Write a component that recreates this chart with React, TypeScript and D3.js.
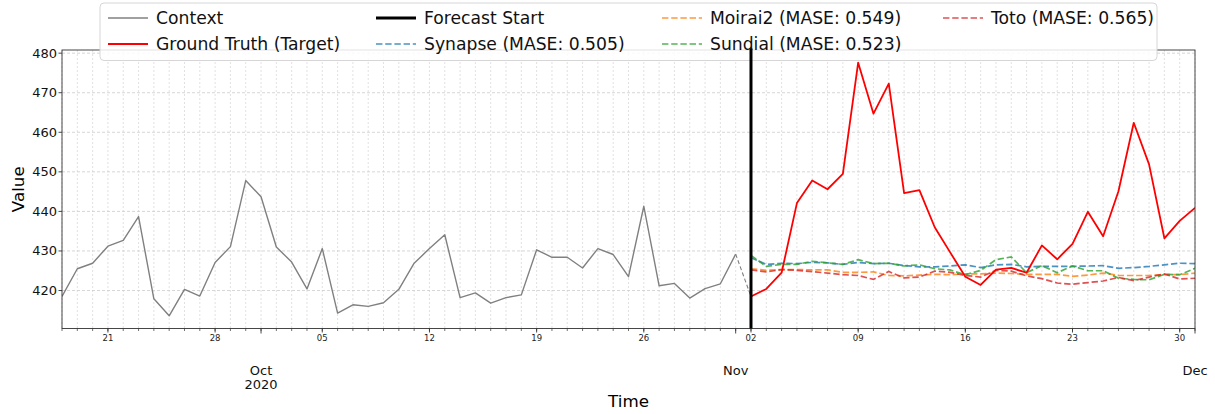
import React from "react";
import * as d3 from "d3";

// Daily observations (context window), 18 Sep 2020 – 1 Nov 2020
const contextStart = Date.UTC(2020, 8, 18);
const contextValues = [
  418.5, 425.5, 426.9, 431.2, 432.7, 438.7, 417.9, 413.6, 420.3, 418.6, 427.1, 431.1, 447.8,
  443.7, 431.0, 427.2, 420.4, 430.6, 414.3, 416.4, 416.0, 416.9, 420.3, 426.9, 430.6, 434.1,
  418.2, 419.4, 416.8, 418.2, 418.9, 430.3, 428.4, 428.4, 425.7, 430.6, 429.1, 423.5, 441.3,
  421.2, 421.8, 418.1, 420.5, 421.7, 429.2,
];

// Target horizon, 2 Nov 2020 – 1 Dec 2020
const forecastStart = Date.UTC(2020, 10, 2);
const groundTruth = [
  418.5, 420.4, 424.5, 442.1, 447.8, 445.6, 449.5, 477.6, 464.7, 472.3, 444.6, 445.4, 436.0,
  429.7, 423.5, 421.4, 425.3, 425.7, 424.5, 431.4, 427.9, 431.8, 439.9, 433.7, 445.1, 462.4,
  451.9, 433.2, 437.6, 440.9,
];
const synapse = [
  428.3, 426.6, 426.9, 426.8, 427.1, 427.0, 426.6, 427.1, 426.8, 426.9, 426.3, 426.0, 426.0,
  426.2, 426.5, 425.8, 426.5, 426.6, 426.0, 426.1, 426.1, 426.1, 426.2, 426.3, 425.6, 425.8,
  426.1, 426.5, 426.9, 426.8,
];
const moirai2 = [
  425.5, 425.1, 425.3, 425.3, 425.2, 425.2, 424.6, 424.6, 424.7, 423.8, 423.7, 423.9, 424.1,
  424.0, 424.2, 424.2, 424.4, 424.3, 424.1, 424.1, 424.1, 423.6, 423.9, 424.4, 423.8, 423.8,
  423.8, 424.0, 424.0, 424.4,
];
const sundial = [
  428.9, 426.1, 426.6, 426.6, 427.4, 427.0, 426.6, 427.8, 426.8, 426.9, 426.2, 426.5, 425.5,
  425.2, 424.0, 425.1, 427.8, 428.5, 424.5, 426.3, 424.5, 426.2, 425.0, 425.0, 423.1, 422.8,
  422.7, 424.1, 424.0, 425.6,
];
const toto = [
  425.2, 424.7, 425.3, 425.1, 424.8, 424.4, 424.0, 423.8, 422.8, 424.8, 423.2, 423.4, 424.9,
  424.6, 423.8, 423.4, 425.1, 424.9, 423.7, 423.0, 421.9, 421.6, 422.0, 422.4, 423.3, 422.5,
  423.4, 424.2, 422.9, 423.1,
];

const yTicks = [420, 430, 440, 450, 460, 470, 480];

const models = [
  { name: "Synapse", mase: 0.505, values: synapse, color: "#1f77b4" },
  { name: "Moirai2", mase: 0.549, values: moirai2, color: "#ff7f0e" },
  { name: "Sundial", mase: 0.523, values: sundial, color: "#2ca02c" },
  { name: "Toto", mase: 0.565, values: toto, color: "#d62728" },
];

const W = 1215;
const H = 414;
const plot = { left: 62, right: 1195, top: 50, bottom: 328.5 };
const FONT = "DejaVu Sans, sans-serif";
const DASH = "6.4,2.8";

type Pt = { date: Date; value: number };
const toSeries = (start: number, vals: number[]): Pt[] =>
  vals.map((v, i) => ({ date: d3.utcDay.offset(new Date(start), i), value: v }));

export default function App() {
  const ctx = toSeries(contextStart, contextValues);
  const gt = toSeries(forecastStart, groundTruth);

  const x = d3
    .scaleUtc()
    .domain([new Date(contextStart), d3.utcDay.offset(new Date(forecastStart), groundTruth.length - 1)])
    .range([plot.left, plot.right]);
  const y = d3.scaleLinear().domain([410.4, 480.8]).range([plot.bottom, plot.top]);

  const line = d3
    .line<Pt>()
    .x((d) => x(d.date))
    .y((d) => y(d.value));

  const days = d3.utcDay.range(x.domain()[0], d3.utcDay.offset(x.domain()[1], 1));
  const weeks = d3.utcMonday.range(x.domain()[0], d3.utcDay.offset(x.domain()[1], 1));
  const months = d3.utcMonth.range(x.domain()[0], d3.utcDay.offset(x.domain()[1], 1));
  const dayFmt = d3.utcFormat("%d");
  const monFmt = d3.utcFormat("%b");

  const bridge: Pt[] = [ctx[ctx.length - 1], gt[0]];
  const xStart = x(new Date(forecastStart));

  const legendCols = [108, 376, 662, 943];
  const legendRows = [18, 44];
  const legendItems = [
    { label: "Context", col: 0, row: 0, color: "#808080", width: 1.4, dash: "" },
    { label: "Ground Truth (Target)", col: 0, row: 1, color: "#ff0000", width: 1.8, dash: "" },
    { label: "Forecast Start", col: 1, row: 0, color: "#000000", width: 3, dash: "" },
    ...models.map((m, i) => ({
      label: `${m.name} (MASE: ${m.mase.toFixed(3)})`,
      col: 1 + Math.floor((i + 1) / 2),
      row: (i + 1) % 2,
      color: m.color,
      width: 1.7,
      dash: DASH,
    })),
  ];

  return (
    <svg
      width={W}
      height={H}
      style={{ position: "absolute", left: 0, top: 0, background: "#fff" }}
      fontFamily={FONT}
    >
      <defs>
        <clipPath id="plot-clip">
          <rect x={plot.left} y={plot.top} width={plot.right - plot.left} height={plot.bottom - plot.top} />
        </clipPath>
      </defs>

      {/* grid */}
      <g>
        {days.map((d) => (
          <line
            key={"vg" + d.getTime()}
            x1={x(d)}
            x2={x(d)}
            y1={plot.top}
            y2={plot.bottom}
            stroke="#cdcdcd"
            strokeWidth={0.6}
            strokeDasharray="2,2"
          />
        ))}
        {yTicks.map((t) => (
          <line
            key={"hg" + t}
            x1={plot.left}
            x2={plot.right}
            y1={y(t)}
            y2={y(t)}
            stroke="#cbcbcb"
            strokeWidth={0.8}
            strokeDasharray="3,2"
          />
        ))}
      </g>

      {/* series */}
      <g clipPath="url(#plot-clip)" fill="none">
        <path d={line(ctx) ?? ""} stroke="#808080" strokeWidth={1.4} strokeLinejoin="round" />
        <path d={line(bridge) ?? ""} stroke="#808080" strokeWidth={1.1} strokeDasharray="4,2.5" />
        {models.map((m) => (
          <path
            key={m.name}
            d={line(toSeries(forecastStart, m.values)) ?? ""}
            stroke={m.color}
            strokeOpacity={0.8}
            strokeWidth={1.7}
            strokeDasharray={DASH}
          />
        ))}
        <path d={line(gt) ?? ""} stroke="#ff0000" strokeWidth={1.8} strokeLinejoin="round" />
      </g>

      {/* spines */}
      <rect
        x={plot.left}
        y={plot.top}
        width={plot.right - plot.left}
        height={plot.bottom - plot.top}
        fill="none"
        stroke="#333"
        strokeWidth={0.9}
      />

      {/* x axis ticks */}
      <g>
        {days.map((d) => (
          <line key={"mt" + d.getTime()} x1={x(d)} x2={x(d)} y1={plot.bottom} y2={plot.bottom + 2.5} stroke="#333" strokeWidth={0.7} />
        ))}
        {weeks.map((d) => (
          <g key={"wk" + d.getTime()}>
            <line x1={x(d)} x2={x(d)} y1={plot.bottom} y2={plot.bottom + 4} stroke="#333" strokeWidth={0.9} />
            <text x={x(d)} y={plot.bottom + 9} fontSize={8.5} textAnchor="middle" dominantBaseline="central" fill="#222">
              {dayFmt(d)}
            </text>
          </g>
        ))}
        {months.map((d, i) => (
          <g key={"mo" + d.getTime()}>
            <line x1={x(d)} x2={x(d)} y1={plot.bottom} y2={plot.bottom + 5} stroke="#333" strokeWidth={0.9} />
            <text x={x(d)} y={370} fontSize={13} textAnchor="middle" dominantBaseline="central" fill="#111">
              {monFmt(d)}
            </text>
            {i === 0 && (
              <text x={x(d)} y={384} fontSize={13} textAnchor="middle" dominantBaseline="central" fill="#111">
                {d.getUTCFullYear()}
              </text>
            )}
          </g>
        ))}
      </g>

      {/* y axis */}
      <g>
        {yTicks.map((t) => (
          <g key={"yt" + t}>
            <line x1={plot.left - 3.5} x2={plot.left} y1={y(t)} y2={y(t)} stroke="#333" strokeWidth={0.9} />
            <text x={plot.left - 5} y={y(t)} fontSize={13} textAnchor="end" dominantBaseline="central" fill="#111">
              {t}
            </text>
          </g>
        ))}
      </g>

      {/* axis titles */}
      <text x={(plot.left + plot.right) / 2} y={401} fontSize={16.7} textAnchor="middle" dominantBaseline="central" fill="#000">
        Time
      </text>
      <text
        transform={`translate(18,${(plot.top + plot.bottom) / 2}) rotate(-90)`}
        fontSize={16.7}
        textAnchor="middle"
        dominantBaseline="central"
        fill="#000"
      >
        Value
      </text>

      {/* legend */}
      <g>
        <rect x={100} y={3} width={1057} height={57.5} rx={4} fill="#fff" fillOpacity={0.85} stroke="#d6d6d6" strokeWidth={1} />
        {legendItems.map((it) => {
          const lx = legendCols[it.col];
          const ly = legendRows[it.row];
          return (
            <g key={it.label}>
              <line x1={lx} x2={lx + 40} y1={ly} y2={ly} stroke={it.color} strokeWidth={it.width} strokeDasharray={it.dash || undefined} strokeOpacity={it.dash ? 0.8 : 1} />
              <text x={lx + 48} y={ly} fontSize={17.2} dominantBaseline="central" fill="#111">
                {it.label}
              </text>
            </g>
          );
        })}
      </g>

      {/* forecast start marker */}
      <line x1={xStart} x2={xStart} y1={plot.top - 1.5} y2={plot.bottom} stroke="#000" strokeWidth={3} />
    </svg>
  );
}
